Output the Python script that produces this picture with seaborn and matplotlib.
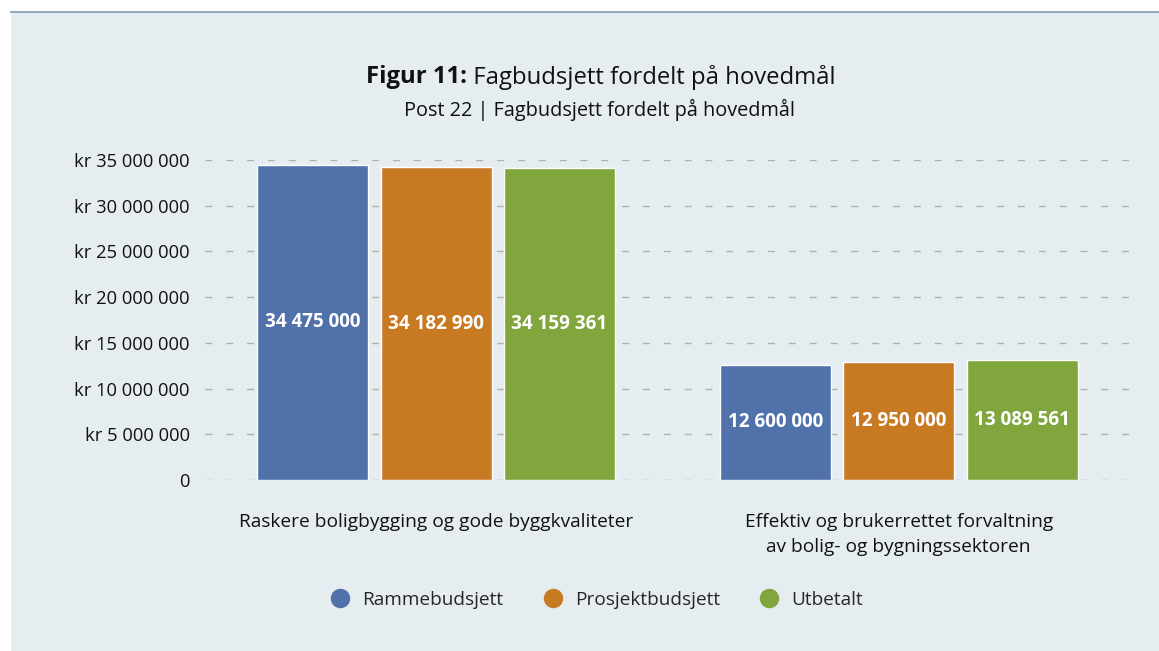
import pandas as pd
import matplotlib.pyplot as plt
import matplotlib.patches as mpatches
from matplotlib.lines import Line2D
import seaborn as sns

# data
categories = ["Raskere boligbygging og gode byggkvaliteter",
              "Effektiv og brukerrettet forvaltning\nav bolig- og bygningssektoren"]
series = ["Rammebudsjett", "Prosjektbudsjett", "Utbetalt"]
rammebudsjett = [34475000, 12600000]
prosjektbudsjett = [34182990, 12950000]
utbetalt = [34159361, 13089561]
yticks = [0, 5000000, 10000000, 15000000, 20000000, 25000000, 30000000, 35000000]
colors = ["#5071aa", "#c87a23", "#80a63d"]

bg = "#e5edf1"

def fmt(v):
    return f"{v:,.0f}".replace(",", " ")

df = pd.DataFrame({
    "kategori": categories * 3,
    "serie": [s for s in series for _ in categories],
    "verdi": rammebudsjett + prosjektbudsjett + utbetalt,
})

sns.set_theme(style="white")
plt.rcParams['font.family'] = ['Open Sans', 'DejaVu Sans']

fig = plt.figure(figsize=(11.59, 6.51), dpi=100)
fig.patch.set_facecolor("white")
# panel background + top rule
fig.patches.append(mpatches.Rectangle((11 / 1159, 0), 1, 1 - 12 / 651, transform=fig.transFigure,
                                      facecolor=bg, edgecolor="none", zorder=-10))
fig.lines.append(Line2D([11 / 1159, 1], [1 - 11.5 / 651] * 2, transform=fig.transFigure,
                        color="#9aa9b8", lw=1.5))

ax = fig.add_axes([205 / 1159, 171 / 651, 925 / 1159, 320 / 651])
ax.set_facecolor(bg)

sns.barplot(data=df, x="kategori", y="verdi", hue="serie", palette=colors,
            saturation=1, width=0.8, gap=0.1, legend=False, ax=ax, zorder=3)

ax.set_ylim(0, 35000000)
ax.set_xlim(-0.5, 1.5)
ax.set_yticks(yticks)
ax.set_yticklabels(["0"] + [f"kr {fmt(v)}" for v in yticks[1:]], fontsize=13.2, color="#111111")
ax.tick_params(axis="y", length=0, pad=10.8)
ax.tick_params(axis="x", length=0, pad=23.5, labelsize=13.8, labelcolor="#111111")
for lab in ax.get_xticklabels():
    lab.set_linespacing(1.5)
ax.set_xlabel("")
ax.set_ylabel("")
for s in ax.spines.values():
    s.set_visible(False)
ax.yaxis.grid(True, color="#b0b0b0", lw=1, linestyle=(0, (5, 10)), zorder=0)
ax.set_axisbelow(True)

for cont in ax.containers:
    ax.bar_label(cont, labels=[fmt(b.get_height()) for b in cont], label_type="center",
                 color="white", fontsize=13.6, fontweight="bold")

# title: bold prefix + regular rest
t1 = fig.text(366 / 1159, 1 - 77 / 651, "Figur 11:", ha="left", va="center",
              fontsize=17.2, fontweight="bold", color="#111111")
fig.canvas.draw()
bb = t1.get_window_extent()
fig.text(bb.x1 / 1159, 1 - 77 / 651, " Fagbudsjett fordelt på hovedmål", ha="left", va="center",
         fontsize=17.2, color="#111111")
fig.text(600 / 1159, 1 - 110 / 651, "Post 22 | Fagbudsjett fordelt på hovedmål",
         ha="center", va="center", fontsize=14.3, color="#111111")

handles = [Line2D([], [], marker="o", linestyle="", markersize=13, color=c) for c in colors]
leg = fig.legend(handles, series, loc="center", bbox_to_anchor=(597 / 1159, 1 - 600 / 651),
                 ncol=3, frameon=False, fontsize=13.7, handlelength=1.0,
                 handletextpad=0.65, columnspacing=2.1)

fig.savefig("out.png", dpi=100, facecolor=fig.get_facecolor())
